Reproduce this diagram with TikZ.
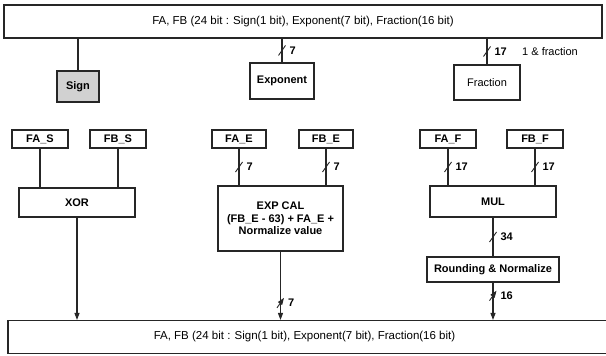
\documentclass[tikz,border=0pt]{standalone}
\usepackage{fontspec}
\setmainfont{Liberation Sans}
\usetikzlibrary{arrows.meta}
\begin{document}
\begin{tikzpicture}[x=1pt,y=-1pt,
  every node/.style={inner sep=0pt, font=\fontsize{11}{12.5}\selectfont},
  box/.style={draw=black!85, line width=1.1pt, align=center, font=\fontsize{11}{12.5}\selectfont\bfseries},
  plainbox/.style={box, font=\fontsize{11}{12.5}\selectfont},
  busbox/.style={box, font=\fontsize{11.5}{13}\selectfont},
  wire/.style={draw=black!85, line width=1.1pt},
  arr/.style={wire, -{Triangle[length=7pt,width=5pt]}},
  num/.style={anchor=west, xshift=7pt, font=\fontsize{11}{12}\selectfont\bfseries},
  bus/.pic={\draw[black!85, line width=0.9pt] (-3.5,5) -- (3.5,-5);}
]
\useasboundingbox (0,0) rectangle (606,356);
% top and bottom bus boxes
\node[busbox, minimum width=598pt, minimum height=33pt] (top) at (303,21.5) {FA, FB (24 bit : Sign(1 bit), Exponent(7 bit), Fraction(16 bit)};
\node[busbox, minimum width=604pt, minimum height=33pt] (bot) at (310,337) {\hspace*{-11pt}FA, FB (24 bit : Sign(1 bit), Exponent(7 bit), Fraction(16 bit)};
% first row
\node[box, fill=black!18, minimum width=42pt, minimum height=31pt] (sign) at (78,86.5) {Sign};
\node[box, line width=1.3pt, minimum width=64pt, minimum height=36pt] (expo) at (282,81) {Exponent};
\node[plainbox, minimum width=66pt, minimum height=35pt] (frac) at (487,82.5) {Fraction};
% second row
\node[box, minimum width=56pt, minimum height=18pt] (fas) at (40,139) {FA\_S};
\node[box, minimum width=56pt, minimum height=18pt] (fbs) at (118,139) {FB\_S};
\node[box, minimum width=54pt, minimum height=18pt] (fae) at (239,139) {FA\_E};
\node[box, minimum width=54pt, minimum height=18pt] (fbe) at (326,139) {FB\_E};
\node[box, minimum width=56pt, minimum height=18pt] (faf) at (448,139) {FA\_F};
\node[box, minimum width=56pt, minimum height=18pt] (fbf) at (535,139) {FB\_F};
% operators
\node[box, minimum width=116pt, minimum height=29pt] (xor) at (77,202.5) {XOR};
\node[box, minimum width=125pt, minimum height=65pt] (exp) at (280.5,218.5) {EXP CAL\\(FB\_E - 63) + FA\_E +\\Normalize value};
\node[box, minimum width=126pt, minimum height=31pt] (mul) at (493,201.5) {MUL};
\node[box, minimum width=132pt, minimum height=25pt] (rnd) at (493,269.5) {Rounding \& Normalize};
% top connectors
\draw[wire] (sign.north |- top.south) -- (sign.north);
\draw[wire] (expo.north |- top.south) -- (expo.north) pic[pos=.5]{bus} node[pos=.5, num]{7};
\draw[wire] (frac.north |- top.south) -- (frac.north) pic[pos=.5]{bus} node[pos=.5, num]{17};
\node[anchor=west] (fraclbl) at (522,52) {1 \& fraction};
% sign path
\draw[wire] (fas.south) -- (fas.south |- xor.north);
\draw[wire] (fbs.south) -- (fbs.south |- xor.north);
\draw[arr] (xor.south) -- (xor.south |- bot.north);
% exponent path
\draw[wire] (fae.south) -- (fae.south |- exp.north) pic[pos=.5]{bus} node[pos=.5, num]{7};
\draw[wire] (fbe.south) -- (fbe.south |- exp.north) pic[pos=.5]{bus} node[pos=.5, num]{7};
\draw[arr] (exp.south) -- (exp.south |- bot.north) pic[pos=.75]{bus} node[pos=.75, num]{7};
% fraction path
\draw[wire] (faf.south) -- (faf.south |- mul.north) pic[pos=.5]{bus} node[pos=.5, num]{17};
\draw[wire] (fbf.south) -- (fbf.south |- mul.north) pic[pos=.5]{bus} node[pos=.5, num]{17};
\draw[wire] (mul.south) -- (rnd.north) pic[pos=.5]{bus} node[pos=.5, num]{34};
\draw[arr] (rnd.south) -- (rnd.south |- bot.north) pic[pos=.35]{bus} node[pos=.35, num]{16};
\end{tikzpicture}
\end{document}
